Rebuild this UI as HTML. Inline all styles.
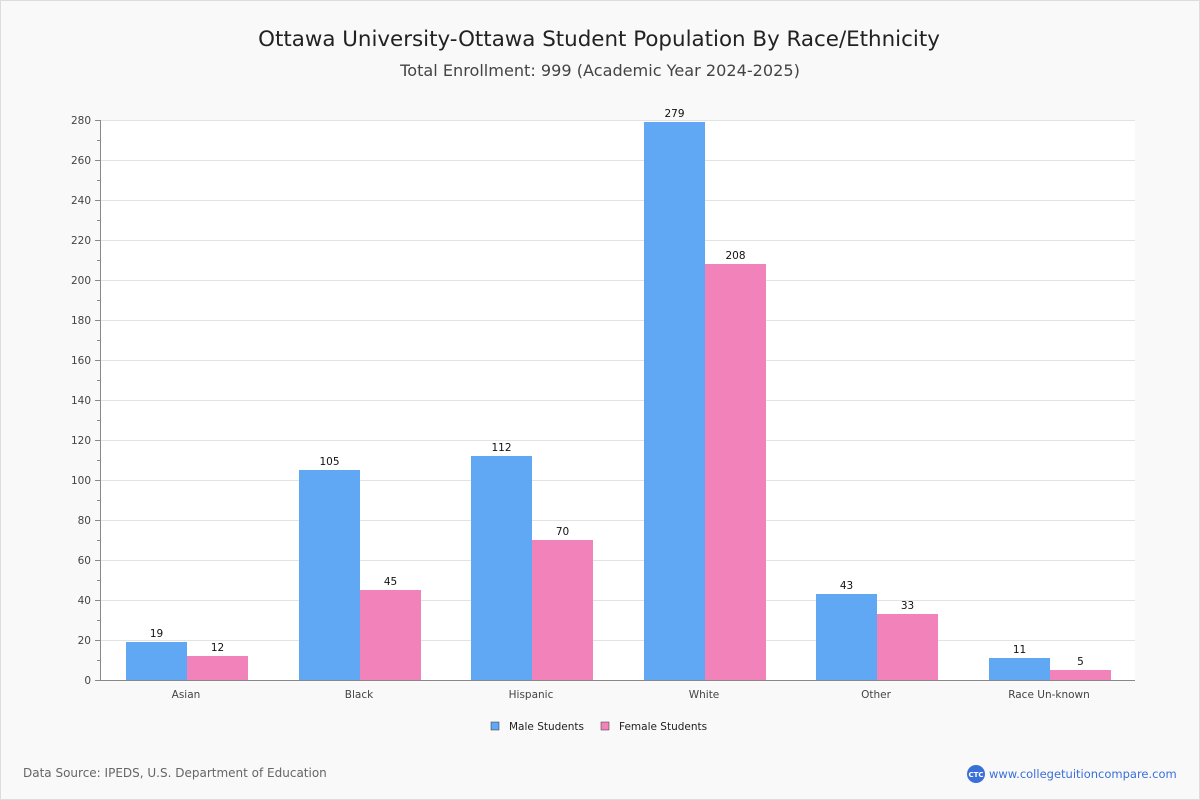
<!DOCTYPE html>
<html><head><meta charset="utf-8"><style>
body{margin:0;background:#f9f9f9;font-family:"DejaVu Sans","Liberation Sans",sans-serif;overflow:hidden;}
#wrap{position:relative;width:1200px;height:800px;background:#f9f9f9;}
</style></head><body>
<div id="wrap">
<svg id="chart" width="1200" height="800" style="display:block">
<rect x="0.5" y="0.5" width="1199" height="799" fill="none" stroke="#ddd"/>
<text x="599" y="46" text-anchor="middle" font-size="21.4" fill="#222">Ottawa University-Ottawa Student Population By Race/Ethnicity</text>
<text x="600" y="76" text-anchor="middle" font-size="16.1" fill="#444">Total Enrollment: 999 (Academic Year 2024-2025)</text>
<rect x="100" y="120" width="1035" height="560" fill="#fff"/>
<g id="grid"></g><g id="bars"></g><g id="axes"></g>
<g>
<rect x="491" y="722" width="8" height="8" fill="#60a8f4" stroke="#333" stroke-width="0.5"/>
<text x="509" y="730" font-size="10.5" fill="#222">Male Students</text>
<rect x="601" y="722" width="8" height="8" fill="#f283ba" stroke="#333" stroke-width="0.5"/>
<text x="619" y="730" font-size="10.5" fill="#222">Female Students</text>
</g>
<text x="23" y="777" font-size="12" fill="#666">Data Source: IPEDS, U.S. Department of Education</text>
<g>
<circle cx="976" cy="774" r="9" fill="#3a6fd8"/>
<text x="976" y="777" text-anchor="middle" font-size="7" fill="#fff" font-weight="bold">CTC</text>
<text x="989" y="778" font-size="11.5" fill="#3a6fd8">www.collegetuitioncompare.com</text>
</g>
</svg>
</div>
<script>
const categories=["Asian","Black","Hispanic","White","Other","Race Un-known"];
const maleValues=[19,105,112,279,43,11];
const femaleValues=[12,45,70,208,33,5];
const yTicks=[0,20,40,60,80,100,120,140,160,180,200,220,240,260,280];
const NS="http://www.w3.org/2000/svg";
const X0=100,X1=1135,Y0=680,Y1=120,YMAX=280;
const y=v=>Y0-(v/YMAX)*(Y0-Y1);
const band=(X1-X0)/categories.length;
const xc=i=>X0+band*(i+0.5);
function mk(t,a,p){const e=document.createElementNS(NS,t);for(const k in a)e.setAttribute(k,a[k]);p.appendChild(e);return e;}
const grid=document.getElementById('grid'),bars=document.getElementById('bars'),axes=document.getElementById('axes');
yTicks.forEach(v=>{
 if(v>0){const g=mk('line',{x1:X0,x2:X1,y1:y(v)+0.5,y2:y(v)+0.5,stroke:'#e3e3e3'},grid);
 
 }
 mk('line',{x1:95,x2:X0,y1:y(v)+0.5,y2:y(v)+0.5,stroke:'#888'},axes);
 if(v<YMAX) mk('line',{x1:97,x2:X0,y1:y(v+10)+0.5,y2:y(v+10)+0.5,stroke:'#888'},axes);
 const t=mk('text',{x:91,y:y(v)+4,'text-anchor':'end','font-size':10.5,fill:'#444'},axes);
 t.textContent=v;
 
 
});
mk('line',{x1:X0+0.5,x2:X0+0.5,y1:Y1,y2:Y0,stroke:'#888'},axes);
mk('line',{x1:X0,x2:X1,y1:Y0+0.5,y2:Y0+0.5,stroke:'#888'},axes);
const bw=61;
categories.forEach((c,i)=>{
 const cx=Math.round(xc(i))+1;
 [[maleValues[i],cx-bw,'#60a8f4','bar-male'],[femaleValues[i],cx,'#f283ba','bar-female']].forEach(([v,x,col,n])=>{
  const r=mk('rect',{x:x,y:y(v),width:bw,height:Y0-y(v),fill:col},bars);
  
  
  const t=mk('text',{x:x+bw/2,y:y(v)-5,'text-anchor':'middle','font-size':10.5,fill:'#111'},bars);
  t.textContent=v;
  
  
 });
 const l=mk('text',{x:cx-1,y:698,'text-anchor':'middle','font-size':10.5,fill:'#444'},axes);
 l.textContent=c;
 
 
});
</script>
</body></html>
